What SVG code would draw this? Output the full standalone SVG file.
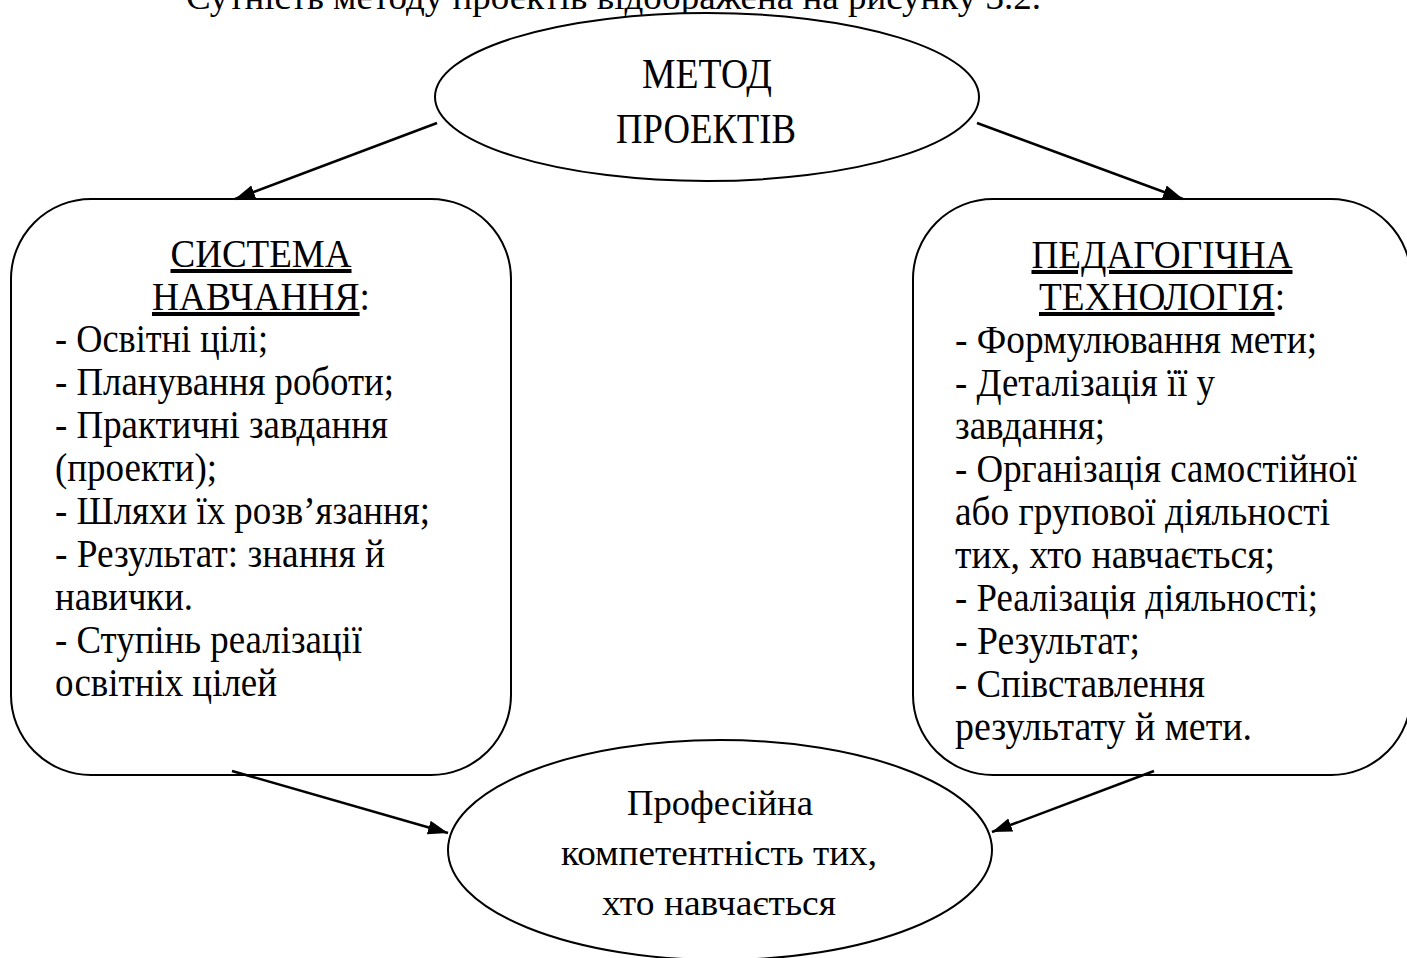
<svg xmlns="http://www.w3.org/2000/svg" width="1407" height="958" viewBox="0 0 1407 958">
<style>
text{font-family:"Liberation Serif","Times New Roman",serif;fill:#000}
.b{font-size:40px}
.h{font-size:40px;text-anchor:middle}
.u{text-decoration:underline}
.e{font-size:42px;text-anchor:middle}
.f{font-size:36px;text-anchor:middle}
.shape{fill:#fff;stroke:#000;stroke-width:2}
.conn{stroke:#000;stroke-width:2.5;fill:none}
</style>
<defs>
<marker id="ah" markerUnits="userSpaceOnUse" markerWidth="22" markerHeight="16" refX="20" refY="7" orient="auto">
<path d="M0,0 L20,7 L0,14 z" fill="#000"/>
</marker>
</defs>
<rect width="1407" height="958" fill="#fff"/>
<text x="186" y="9" style="font-size:36px" textLength="855" lengthAdjust="spacingAndGlyphs">Сутність методу проектів відображена на рисунку 3.2.</text>

<g id="top">
<ellipse class="shape" cx="707" cy="97" rx="272" ry="84"/>
<text class="e" x="707" y="88" textLength="130" lengthAdjust="spacingAndGlyphs">МЕТОД</text>
<text class="e" x="706" y="143" textLength="180" lengthAdjust="spacingAndGlyphs">ПРОЕКТІВ</text>
</g>

<g id="left">
<rect class="shape" x="11" y="199" width="500" height="576" rx="80" ry="80"/>
<text class="h" x="261" y="267" textLength="181" lengthAdjust="spacingAndGlyphs"><tspan class="u">СИСТЕМА</tspan></text>
<text x="152" y="310" style="font-size:40px" textLength="218" lengthAdjust="spacingAndGlyphs"><tspan class="u">НАВЧАННЯ</tspan>:</text>
<text class="b" x="55" y="352" textLength="213" lengthAdjust="spacingAndGlyphs">- Освітні цілі;</text>
<text class="b" x="55" y="395" textLength="339" lengthAdjust="spacingAndGlyphs">- Планування роботи;</text>
<text class="b" x="55" y="438" textLength="333" lengthAdjust="spacingAndGlyphs">- Практичні завдання</text>
<text class="b" x="55" y="481" textLength="162" lengthAdjust="spacingAndGlyphs">(проекти);</text>
<text class="b" x="55" y="524" textLength="375" lengthAdjust="spacingAndGlyphs">- Шляхи їх розв’язання;</text>
<text class="b" x="55" y="567" textLength="330" lengthAdjust="spacingAndGlyphs">- Результат: знання й</text>
<text class="b" x="55" y="610" textLength="138" lengthAdjust="spacingAndGlyphs">навички.</text>
<text class="b" x="55" y="653" textLength="307" lengthAdjust="spacingAndGlyphs">- Ступінь реалізації</text>
<text class="b" x="55" y="696" textLength="222" lengthAdjust="spacingAndGlyphs">освітніх цілей</text>
</g>

<g id="right">
<rect class="shape" x="913" y="199" width="498" height="576" rx="80" ry="80"/>
<text class="h" x="1162" y="268" textLength="261" lengthAdjust="spacingAndGlyphs"><tspan class="u">ПЕДАГОГІЧНА</tspan></text>
<text x="1039" y="310" style="font-size:40px" textLength="246" lengthAdjust="spacingAndGlyphs"><tspan class="u">ТЕХНОЛОГІЯ</tspan>:</text>
<text class="b" x="955" y="353" textLength="362" lengthAdjust="spacingAndGlyphs">- Формулювання мети;</text>
<text class="b" x="955" y="396" textLength="260" lengthAdjust="spacingAndGlyphs">- Деталізація її у</text>
<text class="b" x="955" y="439" textLength="150" lengthAdjust="spacingAndGlyphs">завдання;</text>
<text class="b" x="955" y="482" textLength="402" lengthAdjust="spacingAndGlyphs">- Організація самостійної</text>
<text class="b" x="955" y="525" textLength="375" lengthAdjust="spacingAndGlyphs">або групової діяльності</text>
<text class="b" x="955" y="568" textLength="320" lengthAdjust="spacingAndGlyphs">тих, хто навчається;</text>
<text class="b" x="955" y="611" textLength="363" lengthAdjust="spacingAndGlyphs">- Реалізація діяльності;</text>
<text class="b" x="955" y="654" textLength="185" lengthAdjust="spacingAndGlyphs">- Результат;</text>
<text class="b" x="955" y="697" textLength="250" lengthAdjust="spacingAndGlyphs">- Співставлення</text>
<text class="b" x="955" y="740" textLength="297" lengthAdjust="spacingAndGlyphs">результату й мети.</text>
</g>

<g id="bottom">
<ellipse class="shape" cx="720" cy="850" rx="272" ry="110"/>
<text class="f" x="720" y="815" textLength="186" lengthAdjust="spacingAndGlyphs">Професійна</text>
<text class="f" x="719" y="865" textLength="316" lengthAdjust="spacingAndGlyphs">компетентність тих,</text>
<text class="f" x="719" y="915" textLength="234" lengthAdjust="spacingAndGlyphs">хто навчається</text>
</g>

<g id="connectors">
<line class="conn" x1="437" y1="123" x2="235" y2="199" marker-end="url(#ah)"/>
<line class="conn" x1="977" y1="123" x2="1183" y2="199" marker-end="url(#ah)"/>
<line class="conn" x1="232" y1="771" x2="448" y2="833" marker-end="url(#ah)"/>
<line class="conn" x1="1154" y1="771" x2="992" y2="832" marker-end="url(#ah)"/>
</g>
</svg>
